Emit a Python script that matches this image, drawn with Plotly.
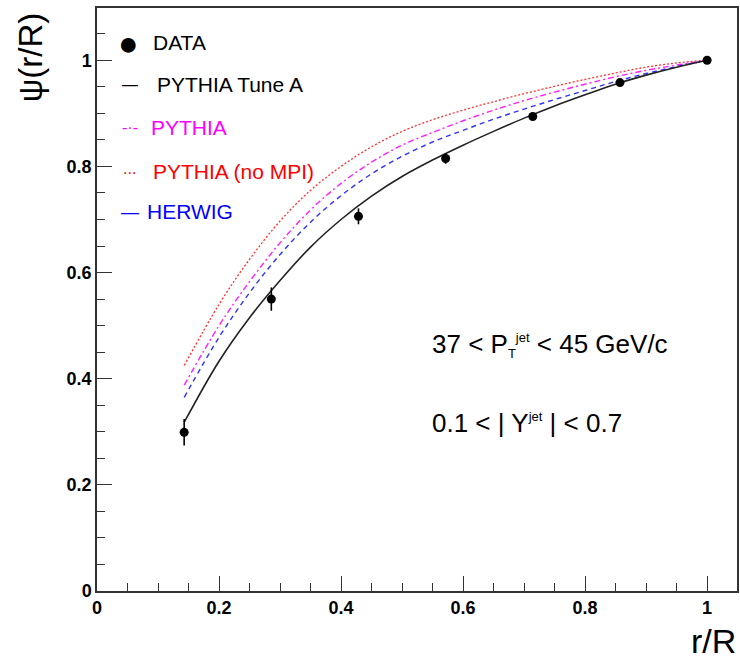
import plotly.graph_objects as go

# ---- data ----
data_x = [1/7, 2/7, 3/7, 4/7, 5/7, 6/7, 1.0]
data_y = [0.299, 0.550, 0.706, 0.815, 0.894, 0.958, 1.000]
data_err = [0.025, 0.022, 0.015, 0.010, 0.007, 0.006, 0.0]

curve_x = [0.143, 0.2, 0.25, 0.3, 0.35, 0.4, 0.45, 0.5, 0.55, 0.6, 0.65, 0.7, 0.75, 0.8, 0.85, 0.9, 0.95, 1.0]
tuneA_y = [0.318, 0.433, 0.515, 0.585, 0.648, 0.700, 0.744, 0.781, 0.812, 0.840, 0.866, 0.891, 0.914, 0.935, 0.955, 0.972, 0.987, 1.000]
pythia_y = [0.388, 0.500, 0.583, 0.656, 0.718, 0.768, 0.808, 0.840, 0.864, 0.886, 0.906, 0.924, 0.940, 0.955, 0.969, 0.981, 0.991, 1.000]
nompi_y = [0.425, 0.540, 0.625, 0.697, 0.755, 0.800, 0.837, 0.866, 0.888, 0.906, 0.922, 0.937, 0.951, 0.964, 0.976, 0.987, 0.995, 1.000]
herwig_y = [0.365, 0.478, 0.562, 0.634, 0.695, 0.745, 0.786, 0.819, 0.846, 0.868, 0.889, 0.908, 0.926, 0.943, 0.960, 0.975, 0.988, 1.000]

FONT = "Liberation Sans, Arial, sans-serif"

fig = go.Figure()
fig.add_trace(go.Scatter(x=curve_x, y=nompi_y, mode="lines", line=dict(color="#ff3030", width=1.3, dash="2px,2px", shape="spline")))
fig.add_trace(go.Scatter(x=curve_x, y=pythia_y, mode="lines", line=dict(color="#ff20ff", width=1.4, dash="6px,3px,2px,3px", shape="spline")))
fig.add_trace(go.Scatter(x=curve_x, y=herwig_y, mode="lines", line=dict(color="#3030ff", width=1.4, dash="5px,4px", shape="spline")))
fig.add_trace(go.Scatter(x=curve_x, y=tuneA_y, mode="lines", line=dict(color="#222222", width=1.6, shape="spline")))
fig.add_trace(go.Scatter(x=data_x, y=data_y, mode="markers",
                         marker=dict(color="black", size=9),
                         error_y=dict(type="data", array=data_err, color="black", thickness=1.6, width=0)))

# helpers: pixel -> paper coords (plot area x 97..739, y 8..591)
def px2p(px):
    return (px - 97) / 642.0
def py2p(py):
    return (591 - py) / 583.0

ann = []
legend_rows = [
    ("●", "black", 34, 129, 42.7, "DATA", "black", 151, 42.7),
    ("—", "black", 16, 130, 85, "PYTHIA Tune A", "black", 155, 85),
    ("-·-", "#ff00ff", 16, 130, 127, "PYTHIA", "#ff00ff", 149, 127),
    ("...", "#ff0000", 16, 130, 168, "PYTHIA (no MPI)", "#ff0000", 151, 171.7),
    ("—", "#0000ff", 18, 130, 211.7, "HERWIG", "#0000ff", 145, 211.7),
]
for sym, scol, ssize, sx, sy, txt, tcol, tx, ty in legend_rows:
    ann.append(dict(x=px2p(sx), y=py2p(sy), xref="paper", yref="paper", text=sym, showarrow=False,
                    xanchor="center", yanchor="middle", font=dict(family=FONT, size=ssize, color=scol)))
    ann.append(dict(x=px2p(tx), y=py2p(ty), xref="paper", yref="paper", text=txt, showarrow=False,
                    xanchor="left", yanchor="middle", font=dict(family=FONT, size=21, color=tcol)))

small = "<span style='font-size:13px'>"
ann.append(dict(x=px2p(431), y=py2p(345), xref="paper", yref="paper",
                text="37 < P<sub>" + small + "T</span></sub><sup>" + small + "jet</span></sup> < 45 GeV/c",
                showarrow=False, xanchor="left", yanchor="middle",
                font=dict(family=FONT, size=26, color="black")))
ann.append(dict(x=px2p(431), y=py2p(423), xref="paper", yref="paper",
                text="0.1 < | Y<sup>" + small + "jet</span></sup> | < 0.7",
                showarrow=False, xanchor="left", yanchor="middle",
                font=dict(family=FONT, size=26, color="black")))
# axis titles
ann.append(dict(x=px2p(740), y=py2p(641), xref="paper", yref="paper", text="r/R", showarrow=False,
                xanchor="right", yanchor="middle", font=dict(family=FONT, size=34, color="black")))
ann.append(dict(x=px2p(30), y=py2p(57), xref="paper", yref="paper", text="ψ(r/R)", showarrow=False,
                textangle=-90, xanchor="center", yanchor="middle", font=dict(family=FONT, size=33, color="black")))

axis_common = dict(
    showgrid=False, zeroline=False, ticks="inside", ticklen=15, tickwidth=1.3, tickcolor="#333",
    showline=True, linecolor="#333", linewidth=1.5, mirror=True,
    tickfont=dict(family=FONT, size=18, color="black", weight="bold"),
    minor=dict(ticks="inside", ticklen=8, dtick=0.05, tickwidth=1.3, tickcolor="#333", showgrid=False),
    tickvals=[0, 0.2, 0.4, 0.6, 0.8, 1.0],
    ticktext=["0", "0.2", "0.4", "0.6", "0.8", "1"],
)

fig.update_layout(
    width=740, height=659,
    margin=dict(l=97, r=1, t=8, b=68),
    paper_bgcolor="white", plot_bgcolor="white",
    showlegend=False,
    annotations=ann,
    xaxis=dict(range=[0, 1.049], **axis_common),
    yaxis=dict(range=[0, 1.0985], **axis_common),
)

fig.write_html("out.html")
